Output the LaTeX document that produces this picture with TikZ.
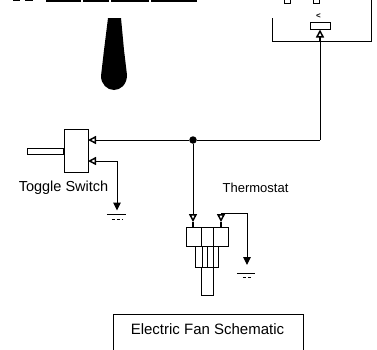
\documentclass[tikz,border=0pt]{standalone}
\usepackage{fontspec}
\setmainfont{Liberation Sans}
\usetikzlibrary{arrows.meta}
\tikzset{
  wire/.style={line width=1pt},
  stem/.style={line width=2.2pt},
  part/.style={draw,line width=1pt,fill=white,inner sep=0pt},
  txt/.style={inner sep=0pt,font=\fontsize{#1}{#1}\selectfont},
  port/.style={wire,-{Triangle[open,length=8pt,width=8pt,line width=1.5pt]}},
  gnd/.style={wire,-{Triangle[length=8pt,width=7.5pt]}},
  gndbar/.style={line width=1pt,dash pattern=on 3pt off 2pt}}

\begin{document}
\begin{tikzpicture}[x=1pt,y=-1pt]
  \clip (0,0) rectangle (377,349);

  % Top of the picture
  \fill (13,-1) rectangle (20,1);
  \fill (25,-1) rectangle (33,1);
  \fill (46,-1) rectangle (81,1.5);
  \fill (83,-1) rectangle (109,1.5);
  \fill (111,-1) rectangle (149,1.5);
  \fill (151,-1) rectangle (197,1.5);
  \fill (108,18) -- (121,18) -- (124,50) -- (127,75) .. controls (127,85) and (120,90) .. (114,90)
    .. controls (107,90) and (101,84) .. (101,76) -- (104,50) -- cycle;

  % Fan housing
  \node[part,minimum width=6pt,minimum height=6pt] (F1) at (287,0) {};
  \node[part,minimum width=6pt,minimum height=6pt] (F2) at (316,0) {};
  \node[txt=8] (F3) at (318.5,16) {\textbf{<}};
  \node[part,minimum width=19.5pt,minimum height=6.5pt] (F4) at (320.5,25.75) {};
  \draw[wire] (272,18) |- (371.5,41) -- (371.5,-2);

  % Toggle Switch
  \node[part,minimum width=24pt,minimum height=43pt] (SW) at (76,150.5) {};
  \node[part,minimum width=36pt,minimum height=6pt,anchor=east] (LV) at (64,151) {};
  \node[txt=14.5] (SWT) at (63.5,188) {Toggle Switch};
  \coordinate (SW1) at (88,140);
  \coordinate (SW2) at (88,161);
  \coordinate (G1) at (117,210.5);
  \node[inner sep=0pt,minimum width=19pt] (GB1) at (116.5,214) {};
  \node[inner sep=0pt,minimum width=10pt] (GB2) at (117,219) {};

  % Thermostat
  \node[part,minimum width=12pt,minimum height=28pt,anchor=north] (TS3) at (207,267) {};
  \node[part,minimum width=23pt,minimum height=21pt,anchor=north] (TS2) at (206.5,246) {};
  \node[part,minimum width=11pt,minimum height=21pt,anchor=north] (TS4) at (207.5,246) {};
  \node[part,minimum width=42pt,minimum height=19pt,anchor=north] (TS1) at (207,227) {};
  \node[part,minimum width=12pt,minimum height=19pt,anchor=north] (TS5) at (207,227) {};
  \node[txt=13] (TST) at (255.5,188) {Thermostat};
  \coordinate (TS6) at (193,222);
  \coordinate (TS7) at (221,222);
  \coordinate (TS8) at (221,213);
  \coordinate (G2) at (247,265);
  \node[inner sep=0pt,minimum width=18pt] (GB3) at (246,273) {};
  \node[inner sep=0pt,minimum width=8pt] (GB4) at (247,277) {};
  \draw[wire] (TS4.north) to (TS4.south);

  % Wires
  \node[circle,fill,inner sep=0pt,minimum size=7.5pt] (J) at (193,140) {};
  \coordinate (F5) at (320,29.5);
  \coordinate (F6) at (320,41);
  \coordinate (C1) at (320,140);
  \draw[port] (C1) to (F5);
  \draw[stem] (F6) to (320,37);
  \draw[wire] (J) to (C1);
  \draw[port] (J) to (SW1);
  \draw[port] (J) to (TS6);
  \draw[stem] (TS6) to (193,227);
  \draw[stem] (TS7) to (221,227);
  \draw[port] (TS8) to (TS7);
  \draw[port] (117,161) to (SW2);
  \draw[gnd] (117,161) to (G1);
  \draw[wire] (TS8) to (247,213);
  \draw[gnd] (247,213) to (G2);
  \draw[wire] (GB1.west) to (GB1.east);
  \draw[gndbar] (GB2.west) to (GB2.east);
  \draw[wire] (GB3.west) to (GB3.east);
  \draw[gndbar] (GB4.west) to (GB4.east);

  % Title
  \draw[wire] (113,350) |- (303,314) -- (303,350);
  \node[txt=15] (T) at (207.5,329) {Electric Fan Schematic};
\end{tikzpicture}
\end{document}
